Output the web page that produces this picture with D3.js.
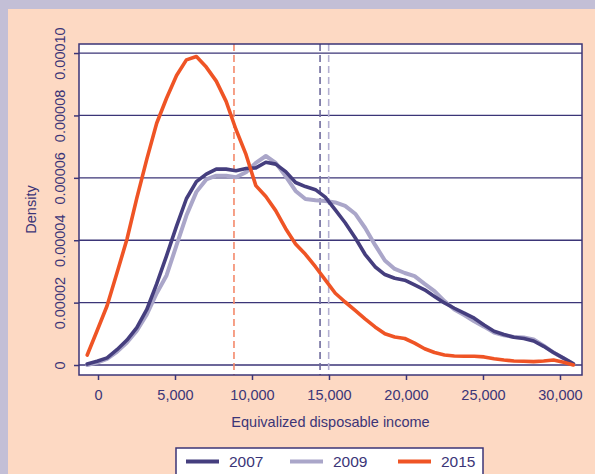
<!DOCTYPE html>
<html lang="en">
<head>
    <meta charset="UTF-8">
    <title>Density of equivalized disposable income</title>
    <script src="https://d3js.org/d3.v7.min.js"></script>
    <style>
        body { margin: 0; background: #c3bfd6; }
        svg { display: block; }
        text { font-family: "Liberation Sans", Arial, sans-serif; fill: #3b3577; }
        .tick-label { font-size: 14.5px; }
        .axis-label { font-size: 14.5px; }
        .legend-label { font-size: 15.5px; }
    </style>
</head>
<body>
    <svg width="595" height="474"></svg>

    <script>
        // Income grid (x) and density per year, in units of 1e-5
        const incomes = [-700, -60, 590, 1230, 1880, 2520, 3170, 3810, 4450, 5100,
            5740, 6390, 7030, 7680, 8320, 8960, 9610, 10250, 10900, 11540,
            12190, 12830, 13470, 14120, 14760, 15410, 16050, 16700, 17340, 17990,
            18630, 19270, 19920, 20560, 21210, 21850, 22500, 23140, 23780, 24430,
            25070, 25720, 26360, 27010, 27650, 28290, 28940, 29580, 30230, 30870];

        const density2007 = [0.03, 0.12, 0.23, 0.49, 0.80, 1.20, 1.78, 2.60, 3.50, 4.45,
            5.33, 5.88, 6.12, 6.28, 6.28, 6.23, 6.30, 6.32, 6.50, 6.44,
            6.20, 5.85, 5.72, 5.62, 5.38, 4.97, 4.56, 4.08, 3.55, 3.15,
            2.90, 2.78, 2.72, 2.57, 2.41, 2.20, 1.99, 1.82, 1.66, 1.50,
            1.28, 1.08, 0.98, 0.89, 0.85, 0.77, 0.60, 0.40, 0.22, 0.04];

        const density2009 = [0.00, 0.08, 0.20, 0.42, 0.72, 1.10, 1.62, 2.30, 2.87, 3.84,
            4.79, 5.55, 5.95, 6.07, 6.07, 6.02, 6.18, 6.48, 6.70, 6.48,
            6.05, 5.58, 5.32, 5.28, 5.26, 5.21, 5.10, 4.85, 4.40, 3.85,
            3.35, 3.08, 2.95, 2.85, 2.60, 2.37, 2.05, 1.78, 1.60, 1.40,
            1.23, 1.04, 0.95, 0.90, 0.88, 0.82, 0.62, 0.40, 0.22, 0.03];

        const density2015 = [0.32, 1.10, 1.90, 2.95, 4.03, 5.35, 6.60, 7.75, 8.55, 9.28,
            9.78, 9.89, 9.55, 9.10, 8.45, 7.55, 6.75, 5.75, 5.40, 4.95,
            4.37, 3.88, 3.55, 3.15, 2.73, 2.30, 2.02, 1.75, 1.48, 1.22,
            1.00, 0.90, 0.85, 0.70, 0.52, 0.40, 0.32, 0.29, 0.28, 0.28,
            0.26, 0.20, 0.16, 0.13, 0.12, 0.11, 0.13, 0.16, 0.09, 0.00];

        const years = ["2007", "2009", "2015"];
        const colors = ["#453e7e", "#aaa6c9", "#ef5425"];
        const dashColors = ["#6e6a9c", "#b4b0d2", "#f4896b"];
        // Vertical reference lines (income) per year
        const refLines = [14420, 14980, 8830];

        const xTicks = [0, 5000, 10000, 15000, 20000, 25000, 30000];
        const yTicks = [0, 0.00002, 0.00004, 0.00006, 0.00008, 0.0001];
        const yTickLabels = ["0", "0.00002", "0.00004", "0.00006", "0.00008", "0.00010"];

        const svg = d3.select("svg");
        const navy = "#3b3577";

        // peach panel
        svg.append("rect")
            .attr("x", 8).attr("y", 9)
            .attr("width", 595).attr("height", 474)
            .attr("fill", "#fdd9c3");

        const plot = { left: 79, top: 44, right: 582, bottom: 375 };

        const x = d3.scaleLinear()
            .domain([-1234, 31430])
            .range([plot.left, plot.right]);

        const y = d3.scaleLinear()
            .domain([-0.0000032, 0.0001029])
            .range([plot.bottom, plot.top]);

        // plot background
        svg.append("rect")
            .attr("x", plot.left).attr("y", plot.top)
            .attr("width", plot.right - plot.left)
            .attr("height", plot.bottom - plot.top)
            .attr("fill", "#ffffff");

        // gridlines
        svg.append("g")
            .selectAll("line")
            .data(yTicks)
            .join("line")
            .attr("x1", plot.left).attr("x2", plot.right)
            .attr("y1", d => y(d)).attr("y2", d => y(d))
            .attr("stroke", navy)
            .attr("stroke-width", 1.3);

        // reference dashed lines
        refLines.forEach((v, i) => {
            svg.append("line")
                .attr("x1", x(v)).attr("x2", x(v))
                .attr("y1", plot.top).attr("y2", plot.bottom)
                .attr("stroke", dashColors[i])
                .attr("stroke-width", 1.6)
                .attr("stroke-dasharray", "7,4");
        });

        // density curves
        const series = [density2007, density2009, density2015];
        const line = d3.line()
            .x((d, i) => x(incomes[i]))
            .y(d => y(d * 1e-5));

        const widths = [3.6, 4, 3.6];
        // draw 2009 first, then 2007, then 2015 on top
        [1, 0, 2].forEach(k => {
            svg.append("path")
                .datum(series[k])
                .attr("fill", "none")
                .attr("stroke", colors[k])
                .attr("stroke-width", widths[k])
                .attr("stroke-linejoin", "round")
                .attr("stroke-linecap", "round")
                .attr("d", line);
        });

        // frame
        svg.append("rect")
            .attr("x", plot.left).attr("y", plot.top)
            .attr("width", plot.right - plot.left)
            .attr("height", plot.bottom - plot.top)
            .attr("fill", "none")
            .attr("stroke", navy)
            .attr("stroke-width", 1.5);

        // x axis
        const xAxis = svg.append("g")
            .attr("transform", `translate(0,${plot.bottom})`)
            .call(d3.axisBottom(x)
                .tickValues(xTicks)
                .tickSize(5)
                .tickPadding(10)
                .tickFormat(d3.format(",")));
        xAxis.select(".domain").remove();
        xAxis.selectAll("line").attr("stroke", navy).attr("stroke-width", 1.5);
        xAxis.selectAll("text")
            .attr("class", "tick-label")
            .attr("fill", navy)
            .style("font-family", "'Liberation Sans', Arial, sans-serif");

        // y axis with rotated labels
        const yAxis = svg.append("g")
            .attr("transform", `translate(${plot.left},0)`)
            .call(d3.axisLeft(y)
                .tickValues(yTicks)
                .tickSize(5)
                .tickFormat((d, i) => yTickLabels[i]));
        yAxis.select(".domain").remove();
        yAxis.selectAll("line").attr("stroke", navy).attr("stroke-width", 1.5);
        yAxis.selectAll("text")
            .attr("class", "tick-label")
            .attr("fill", navy)
            .style("font-family", "'Liberation Sans', Arial, sans-serif")
            .attr("x", null).attr("dy", null)
            .attr("transform", "translate(-14,0) rotate(-90)")
            .attr("text-anchor", "middle");

        // axis titles
        svg.append("text")
            .attr("class", "axis-label")
            .attr("x", (plot.left + plot.right) / 2)
            .attr("y", 427)
            .attr("text-anchor", "middle")
            .text("Equivalized disposable income");

        svg.append("text")
            .attr("class", "axis-label")
            .attr("transform", `translate(36,${(plot.top + plot.bottom) / 2}) rotate(-90)`)
            .attr("text-anchor", "middle")
            .text("Density");

        // legend
        const legend = svg.append("g");
        legend.append("rect")
            .attr("x", 176).attr("y", 448)
            .attr("width", 307).attr("height", 40)
            .attr("fill", "#ffffff")
            .attr("stroke", navy)
            .attr("stroke-width", 1.5);

        const legendX = [186, 290, 398];
        years.forEach((yr, i) => {
            legend.append("line")
                .attr("x1", legendX[i]).attr("x2", legendX[i] + 33)
                .attr("y1", 461.5).attr("y2", 461.5)
                .attr("stroke", colors[i])
                .attr("stroke-width", 4);
            legend.append("text")
                .attr("class", "legend-label")
                .attr("x", legendX[i] + 43)
                .attr("y", 467)
                .text(yr);
        });
    </script>
</body>
</html>
